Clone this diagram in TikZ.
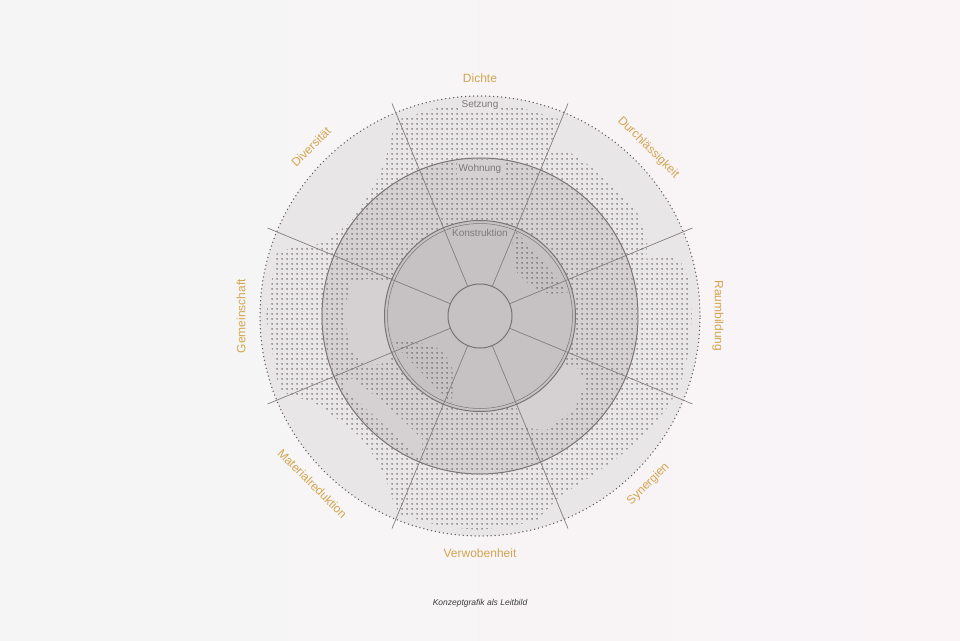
\documentclass[tikz,border=0pt]{standalone}
\usepackage{fontspec}
\setmainfont{Liberation Sans}
\usetikzlibrary{patterns.meta}

\tikzdeclarepattern{
  name=stipple,
  type=uncolored,
  bounding box={(0pt,0pt) and (5pt,5pt)},
  tile size={(5pt,5pt)},
  code={\fill (2.5pt,2.5pt) circle (0.9pt);}
}

\begin{document}
\begin{tikzpicture}[x=1pt,y=1pt,
  stippled/.style={pattern={stipple},pattern color=dotColor},
  ringline/.style={draw=lineColor,line width=1.0pt},
  spoke/.style={draw=spokeColor,line width=0.7pt},
  criterion/.style={text=labelColor,inner sep=0pt,font=\fontsize{12}{14}\selectfont},
  layerlabel/.style={text=layerColor,inner sep=1.2pt,font=\fontsize{10}{12}\selectfont}]
\definecolor{bgLeft}{RGB}{245,245,245}
\definecolor{bgRight}{RGB}{250,244,247}
\definecolor{outerFill}{RGB}{233,230,232}
\definecolor{ringFill}{RGB}{213,208,210}
\definecolor{coreFill}{RGB}{198,193,194}
\definecolor{dotColor}{RGB}{80,76,78}
\definecolor{lineColor}{RGB}{120,115,117}
\definecolor{spokeColor}{RGB}{130,125,127}
\definecolor{rimColor}{RGB}{95,92,94}
\definecolor{labelColor}{RGB}{212,165,80}
\definecolor{layerColor}{RGB}{125,120,122}
\definecolor{captionColor}{RGB}{60,60,60}

\path[use as bounding box] (-480,-324) rectangle (480,316);
\shade[left color=bgLeft,right color=bgRight] (-480,-324) rectangle (480,316);

\fill[outerFill] (0,0) circle (220pt);

\fill[stippled] (0:212) \foreach \a/\r in {10/212,15/208,17/200,19/176,24/183,33/188,44/186,54/186,62/187,66/180,67.5/178,68/212,80/213,90/213,100/213,113/213,115/206,118/192,121/184,126/172,132/165,144/160,154/171,158/185,160/200,163/213,180/214,200/214,203/205,207/188,212/180,225/170,235/178,241/191,245/205,248/214,260/214,270/214,285/213,289/205,294/197,305/195,315/198,325/203,333/208,340/212,350/212} {-- (\a:\r)} -- cycle;

\fill[ringFill] (0,0) circle (158pt);

\fill[stippled,even odd rule] (0,0) circle (157pt) (0,0) circle (95pt)
  (160:97) -- (162:120) -- (166:134) -- (180:136) -- (195:134) -- (203:125) -- (206:110) -- (205:97) -- cycle
  (207:155) -- (206:142) -- (215:133) -- (232:129) -- (245:136) -- (248:155) -- cycle
  (292:97) -- (290:118) -- (300:132) -- (315:133) -- (328:125) -- (332:110) -- (330:97) -- cycle;

\fill[coreFill] (0,0) circle (95pt);

\fill[stippled] (67:92) -- (66:80) -- (60:68) -- (49:57) -- (35:58) -- (23:64) -- (17:75) -- (15:92) -- cycle;
\fill[stippled] (196:92) -- (200:75) -- (212:55) -- (228:52) -- (243:60) -- (250:80) -- (252:92) -- cycle;

\draw[rimColor,line width=1.5pt,line cap=round,dash pattern=on 0pt off 4pt] (0,0) circle (220pt);
\draw[ringline] (0,0) circle (158pt);
\draw[ringline] (0,0) circle (95.5pt);
\draw[draw=lineColor,line width=0.5pt] (0,0) circle (92.5pt);

\foreach \a in {22.5,67.5,...,337.5}
  \draw[spoke] (\a:32) -- (\a:230);

\draw[ringline,fill=coreFill] (0,0) circle (32pt);

\node[criterion] (dichte) at (90:238) {Dichte};
\node[criterion,rotate=-45] (durchlaessigkeit) at (45:238) {Durchlässigkeit};
\node[criterion,rotate=-90] (raumbildung) at (0:238) {Raumbildung};
\node[criterion,rotate=45] (synergien) at (-45:238) {Synergien};
\node[criterion] (verwobenheit) at (-90:237) {Verwobenheit};
\node[criterion,rotate=-45] (materialreduktion) at (-135:237) {Materialreduktion};
\node[criterion,rotate=90] (gemeinschaft) at (180:239) {Gemeinschaft};
\node[criterion,rotate=45] (diversitaet) at (135:239) {Diversität};

\node[layerlabel,fill=outerFill] (setzung) at (0,211) {Setzung};
\node[layerlabel,fill=ringFill] (wohnung) at (0,147) {Wohnung};
\node[layerlabel,fill=coreFill] (konstruktion) at (0,83) {Konstruktion};

\node[text=captionColor,inner sep=0pt,font=\fontsize{8.5}{10}\selectfont\itshape] (caption) at (0,-287) {Konzeptgrafik als Leitbild};
\end{tikzpicture}
\end{document}
